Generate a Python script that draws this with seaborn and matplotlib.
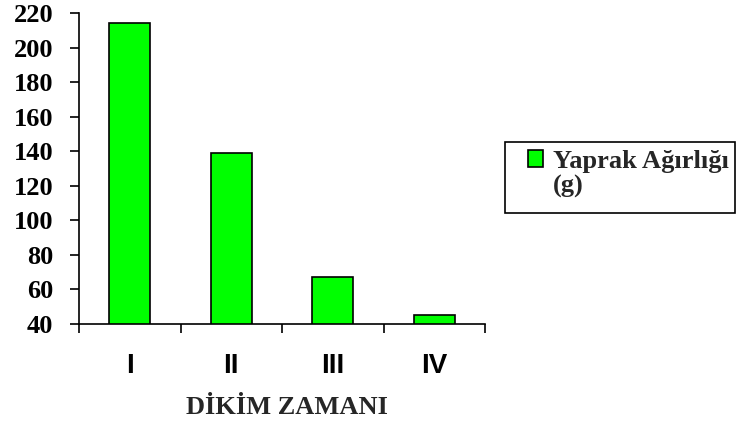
import matplotlib
matplotlib.use("Agg")
import matplotlib.pyplot as plt
import seaborn as sns
import pandas as pd
from matplotlib.patches import Rectangle

categories = ["I", "II", "III", "IV"]
values = [214, 139, 67, 45]
series_name = "Yaprak Ağırlığı (g)"
y_ticks = [40, 60, 80, 100, 120, 140, 160, 180, 200, 220]
x_title = "DİKİM ZAMANI"

df = pd.DataFrame({"cat": categories, "val": values})

sns.set_theme(style="white")
plt.rcParams["font.family"] = ["Liberation Serif", "DejaVu Serif"]

fig = plt.figure(figsize=(7.39, 4.25), dpi=100)
ax = fig.add_axes([79/739, 1-324/425, (485-79)/739, (324-13)/425])

name_main, name_unit = series_name.rsplit(" ", 1)

sns.barplot(data=df, x="cat", y="val", ax=ax, color="#00FF00", saturation=1,
            width=0.4, edgecolor="black", linewidth=1.2, label=name_main)

ax.set_ylim(40, 220)
ax.set_xlim(-0.5, 3.5)
ax.set_yticks(y_ticks)
ax.set_yticklabels([str(v) for v in y_ticks], fontsize=19, fontweight="bold",
                   family=["Liberation Serif"])
ax.set_xticks(range(len(categories)))
ax.set_xticklabels(categories, fontsize=20, fontweight="bold",
                   family=["Liberation Sans"])
ax.tick_params(axis="x", which="major", length=0, pad=21, colors="black")
ax.set_xticks([-0.5, 0.5, 1.5, 2.5, 3.5], minor=True)
ax.tick_params(axis="x", which="minor", length=6.5, width=1.2, direction="out",
               bottom=True, color="black")
ax.tick_params(axis="y", which="major", length=6.5, width=1.2, direction="out",
               left=True, pad=12, color="black", labelcolor="black")
for s in ["top", "right"]:
    ax.spines[s].set_visible(False)
for s in ["left", "bottom"]:
    ax.spines[s].set_color("black")
    ax.spines[s].set_linewidth(1.2)

ax.set_ylabel("")
ax.set_xlabel(x_title, fontsize=19, fontweight="bold",
              family=["Liberation Serif"], va="baseline")
ax.xaxis.set_label_coords((287-79)/406, (324-414)/311)

# legend
leg = ax.legend(loc="upper left", bbox_to_anchor=(528/739, 1-150/425),
                bbox_transform=fig.transFigure, frameon=False,
                prop={"family": "Liberation Serif", "weight": "bold", "size": 19},
                handlelength=0.58, handleheight=0.58, handletextpad=0.38,
                borderaxespad=0, borderpad=0, labelspacing=0)
for p in leg.get_patches():
    p.set_edgecolor("black")
    p.set_linewidth(1.2)
fig.text(553/739, 1-193/425, name_unit, fontsize=19, fontweight="bold",
         family=["Liberation Serif"], va="baseline", ha="left")
fig.patches.append(Rectangle((505/739, 1-213/425), (735-505)/739, (213-142)/425,
                             transform=fig.transFigure, fill=False,
                             edgecolor="black", linewidth=1.2))

fig.savefig("out.png", dpi=100)
